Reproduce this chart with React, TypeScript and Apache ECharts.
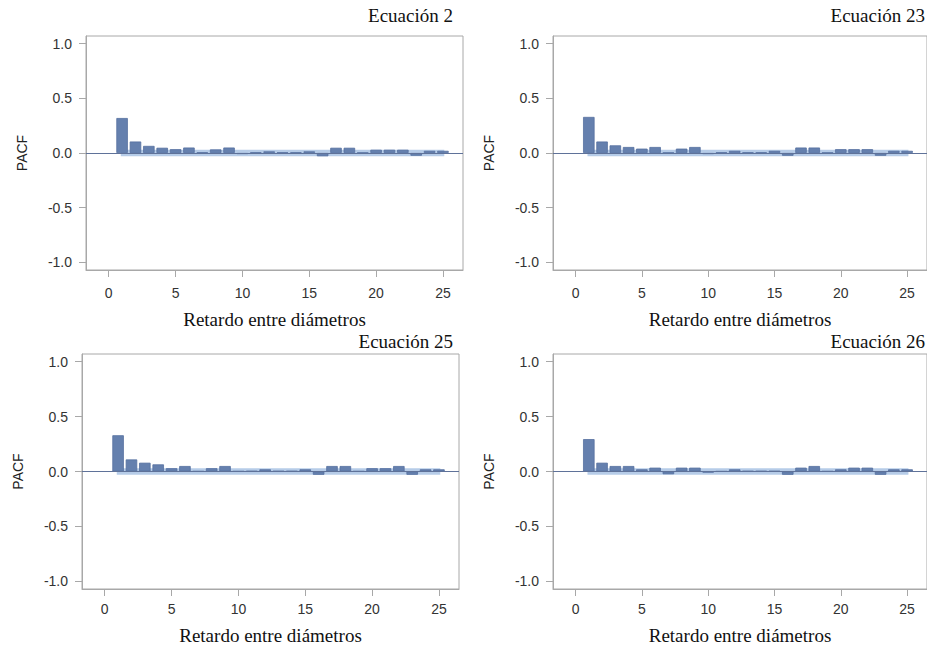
import React, { useEffect, useRef } from "react";
import * as echarts from "echarts";

const LAGS = [1, 2, 3, 4, 5, 6, 7, 8, 9, 10, 11, 12, 13, 14, 15, 16, 17, 18, 19, 20, 21, 22, 23, 24, 25];
const TITLES = ["Ecuación 2", "Ecuación 23", "Ecuación 25", "Ecuación 26"];
const PACF_EC2 = [0.32, 0.105, 0.065, 0.048, 0.035, 0.05, 0.005, 0.033, 0.05, -0.01, 0.005, 0.015, 0.005, 0.005, 0.015, -0.03, 0.048, 0.048, 0.003, 0.03, 0.03, 0.03, -0.025, 0.02, 0.02];
const PACF_EC23 = [0.33, 0.105, 0.07, 0.055, 0.04, 0.055, 0.003, 0.04, 0.055, -0.01, 0.005, 0.02, 0.005, 0.005, 0.02, -0.025, 0.05, 0.05, 0.003, 0.035, 0.035, 0.035, -0.025, 0.02, 0.02];
const PACF_EC25 = [0.33, 0.11, 0.08, 0.065, 0.03, 0.05, 0.003, 0.03, 0.05, 0.003, 0.005, 0.02, 0.005, 0.005, 0.02, -0.03, 0.05, 0.05, 0.003, 0.03, 0.03, 0.05, -0.03, 0.02, 0.02];
const PACF_EC26 = [0.295, 0.08, 0.05, 0.05, 0.02, 0.035, -0.025, 0.035, 0.035, -0.01, 0.002, 0.02, 0.005, 0.005, 0.005, -0.03, 0.035, 0.05, 0.003, 0.02, 0.035, 0.035, -0.03, 0.02, 0.02];
const SERIES = [PACF_EC2, PACF_EC23, PACF_EC25, PACF_EC26];
const BAND_LIMIT = 0.03;
const BAND_RANGE = [0.9, 25.1];
const X_TICKS = [0, 5, 10, 15, 20, 25];
const Y_TICKS = [-1, -0.5, 0, 0.5, 1];
const X_LABEL = "Retardo entre diámetros";
const Y_LABEL = "PACF";

const GRIDS = [
  { left: 86, top: 36, width: 377, height: 234 },
  { left: 553, top: 36, width: 377, height: 234 },
  { left: 82, top: 354, width: 377, height: 235 },
  { left: 553, top: 354, width: 377, height: 235 },
];
const TITLE_POS = [
  { right: 474, top: 6 },
  { right: 2, top: 6 },
  { right: 474, top: 332 },
  { right: 2, top: 332 },
];
const X_MARGIN = [16, 16, 13, 13];
const X_NAMEGAP = [40, 40, 37, 37];

export default function App() {
  const ref = useRef<HTMLDivElement>(null);
  useEffect(() => {
    if (!ref.current) return;
    const chart = echarts.init(ref.current, undefined, { renderer: "svg" });
    const gray = "#a8a8a8";
    const sans = "Liberation Sans";
    const serif = "Liberation Serif";
    const option: any = {
      animation: false,
      backgroundColor: "#ffffff",
      title: TITLES.map((t, i) => ({
        text: t,
        right: TITLE_POS[i].right,
        top: TITLE_POS[i].top,
        padding: 0,
        textStyle: { fontFamily: serif, fontSize: 19, fontWeight: "normal", color: "#111" },
      })),
      grid: GRIDS.map((g) => ({ ...g, show: true, borderColor: gray, borderWidth: 1, containLabel: false })),
      xAxis: GRIDS.map((_, i) => ({
        type: "value",
        gridIndex: i,
        min: -1.7,
        max: 26.5,
        splitLine: { show: false },
        axisLine: { show: true, onZero: false, lineStyle: { color: gray } },
        axisTick: { show: true, customValues: X_TICKS, length: 7, lineStyle: { color: gray } },
        axisLabel: {
          customValues: X_TICKS,
          margin: X_MARGIN[i],
          color: "#333",
          fontFamily: sans,
          fontSize: 14,
          formatter: (v: number) => String(v),
        },
        name: X_LABEL,
        nameLocation: "middle",
        nameGap: X_NAMEGAP[i],
        nameTextStyle: { fontFamily: serif, fontSize: 19, color: "#111" },
      })),
      yAxis: GRIDS.map((_, i) => ({
        type: "value",
        gridIndex: i,
        min: -1.07,
        max: 1.07,
        splitLine: { show: false },
        axisLine: { show: true, onZero: false, lineStyle: { color: gray } },
        axisTick: { show: true, customValues: Y_TICKS, length: 7, lineStyle: { color: gray } },
        axisLabel: {
          customValues: Y_TICKS,
          margin: 14,
          color: "#333",
          fontFamily: sans,
          fontSize: 14,
          formatter: (v: number) => v.toFixed(1),
        },
        name: Y_LABEL,
        nameLocation: "middle",
        nameGap: 57,
        nameRotate: 90,
        nameTextStyle: { fontFamily: sans, fontSize: 14, color: "#222" },
      })),
      series: SERIES.flatMap((vals, i) => [
        {
          type: "line",
          xAxisIndex: i,
          yAxisIndex: i,
          z: 1,
          silent: true,
          symbol: "none",
          lineStyle: { opacity: 0 },
          data: [
            [BAND_RANGE[0], 0],
            [BAND_RANGE[1], 0],
          ],
          markArea: {
            silent: true,
            itemStyle: { color: "#b6cce8", opacity: 1 },
            data: [[{ coord: [BAND_RANGE[0], -BAND_LIMIT] }, { coord: [BAND_RANGE[1], BAND_LIMIT] }]],
          },
          markLine: {
            silent: true,
            symbol: "none",
            label: { show: false },
            lineStyle: { color: "#5f7299", width: 1, type: "solid" },
            data: [{ yAxis: 0 }],
          },
        },
        {
          type: "bar",
          xAxisIndex: i,
          yAxisIndex: i,
          z: 3,
          barWidth: 11.5,
          itemStyle: { color: "#6580ae", borderColor: "#55709f", borderWidth: 0.8 },
          data: LAGS.map((l, k) => [l, vals[k]]),
        },
      ]),
    };
    chart.setOption(option);
    return () => chart.dispose();
  }, []);
  return <div ref={ref} style={{ position: "fixed", left: 0, top: 0, width: 927, height: 650 }} />;
}
